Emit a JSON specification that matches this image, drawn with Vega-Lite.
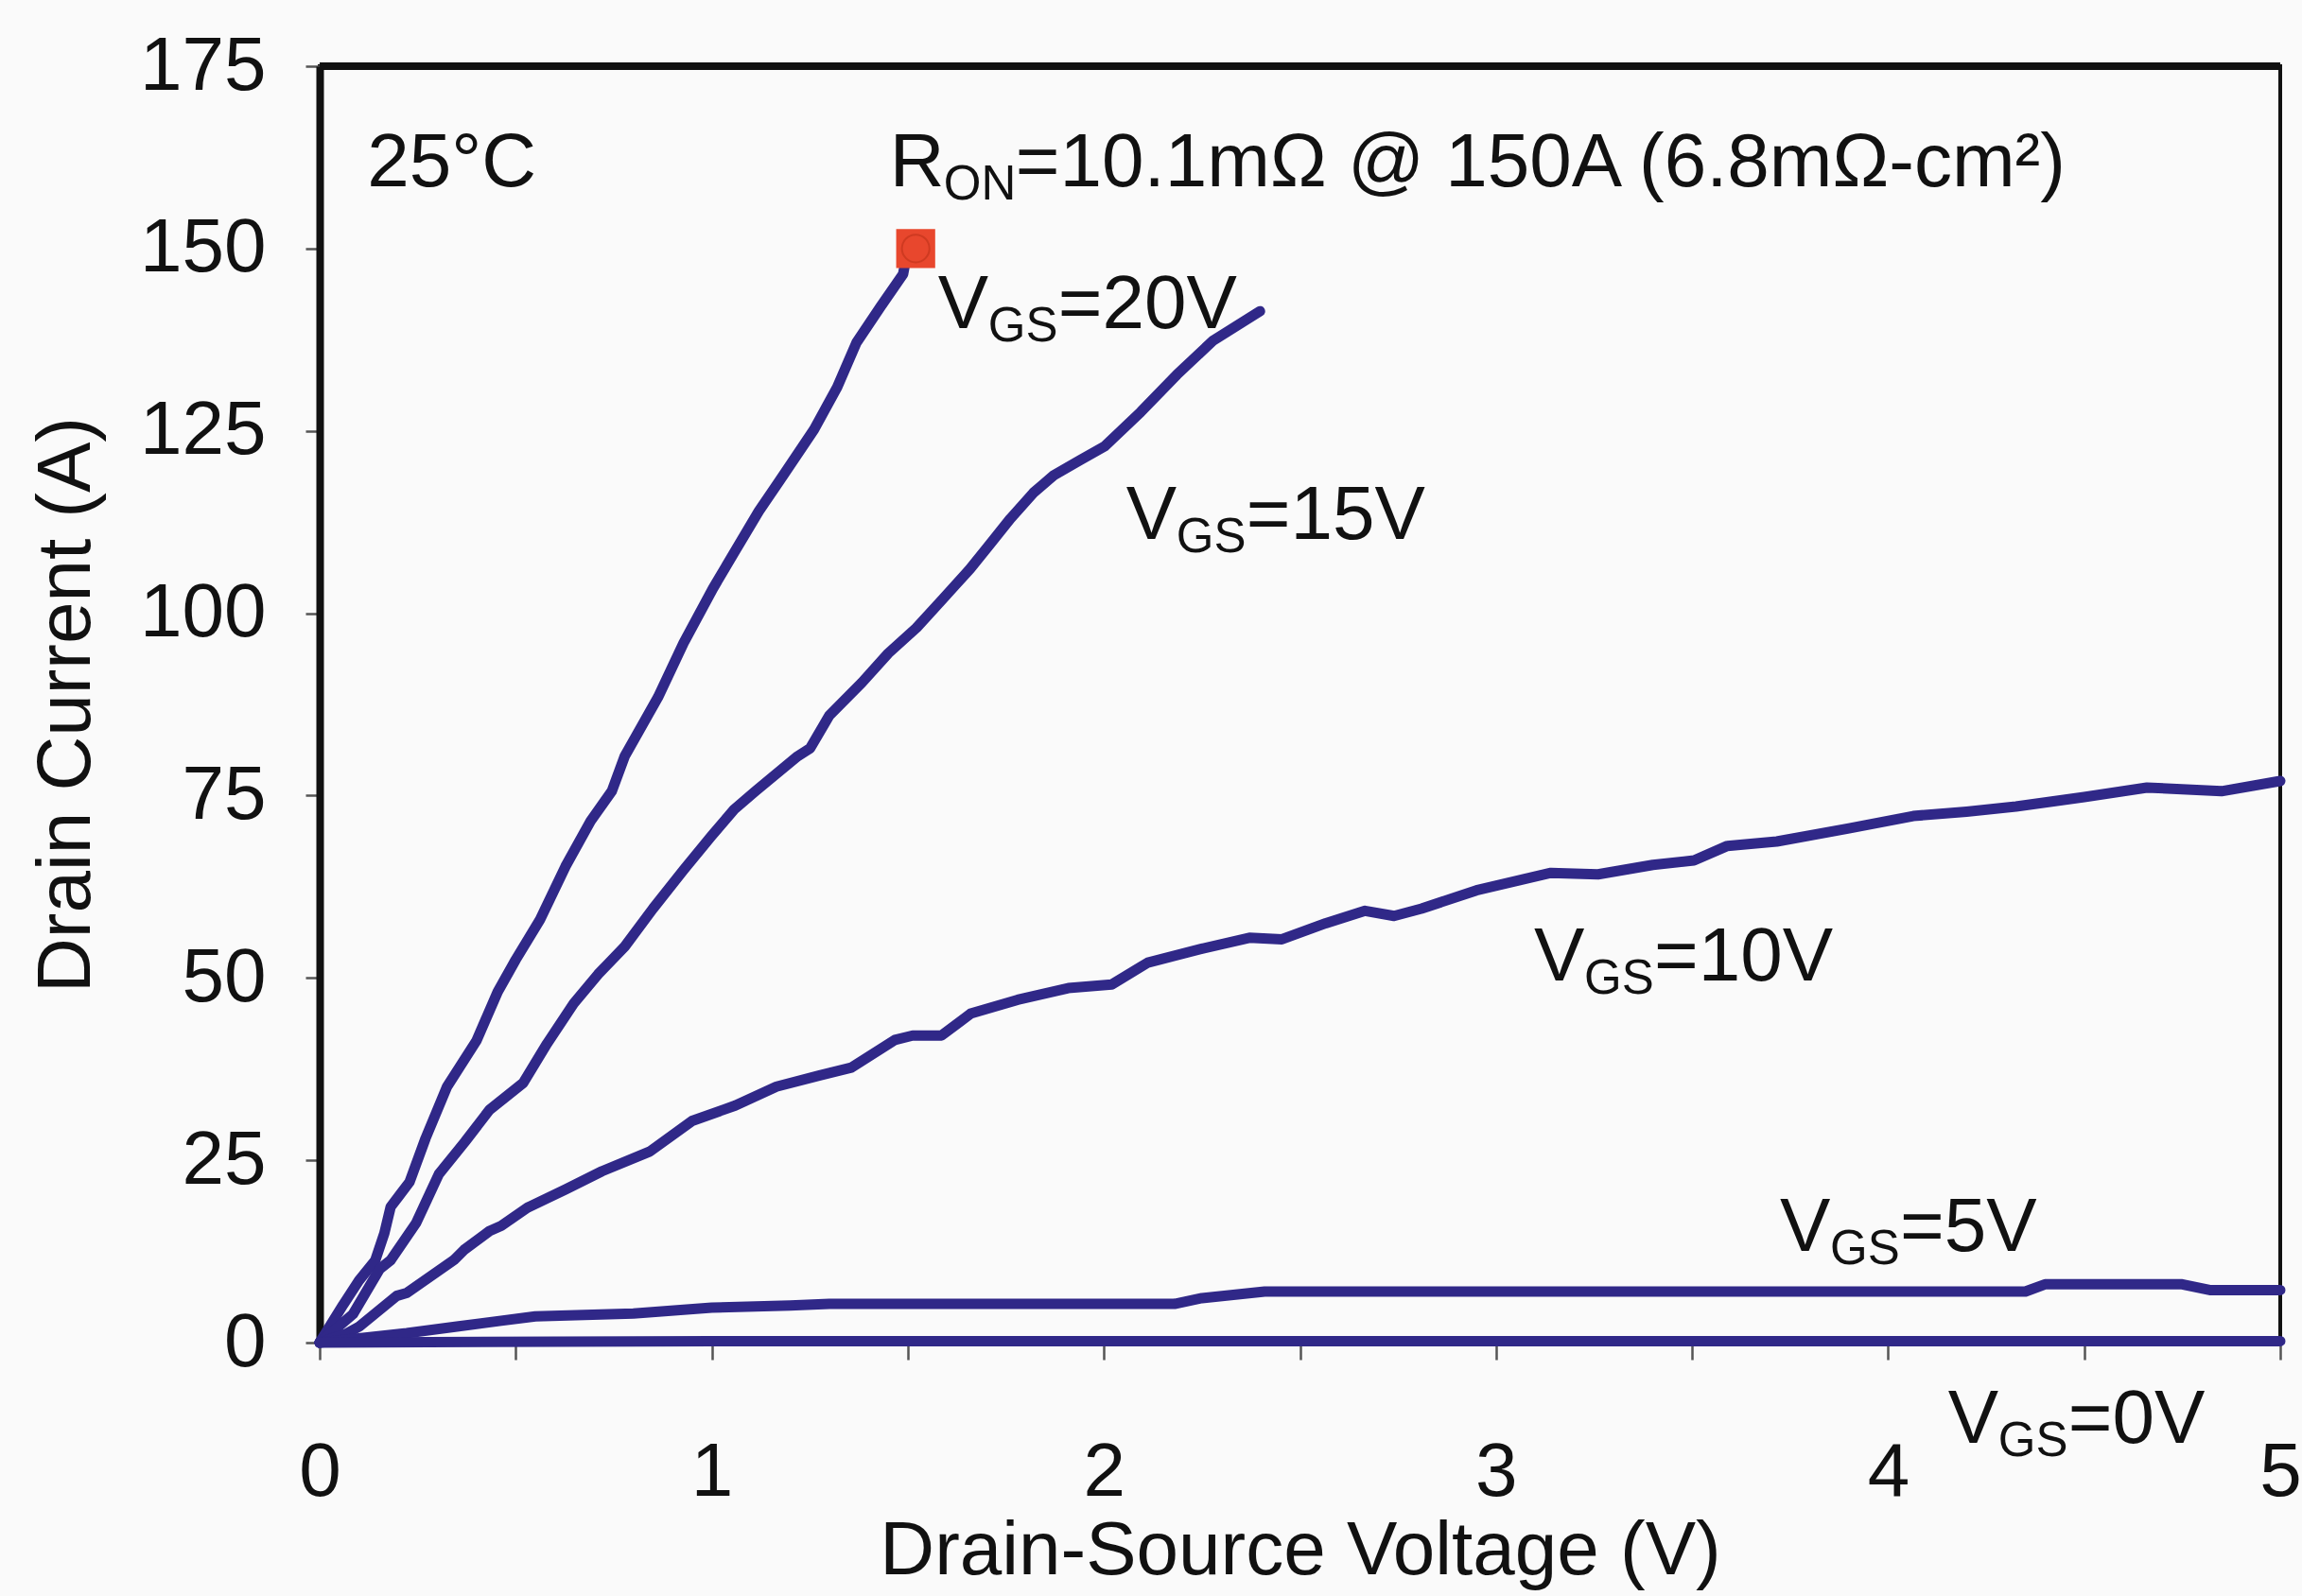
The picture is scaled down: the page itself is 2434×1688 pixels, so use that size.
{
  "$schema": "https://vega.github.io/schema/vega-lite/v6.json",
  "width": 2073,
  "height": 1350,
  "autosize": {"type": "none"},
  "padding": {"left": 338, "top": 70, "right": 23, "bottom": 268},
  "background": "#fafafa",
  "data": {"values": [{"anchor": 1}]},
  "config": {
    "font": "Liberation Sans",
    "view": {"stroke": "#111111", "strokeWidth": 4},
    "text": {"font": "Liberation Sans", "color": "#111111"}
  },
  "datasets": {
    "curves": [
      {"vgs": "20V", "v": 0, "i": 0},
      {"vgs": "20V", "v": 0.06, "i": 5.2},
      {"vgs": "20V", "v": 0.1, "i": 8.5},
      {"vgs": "20V", "v": 0.142, "i": 11.3},
      {"vgs": "20V", "v": 0.165, "i": 15},
      {"vgs": "20V", "v": 0.181, "i": 18.6},
      {"vgs": "20V", "v": 0.205, "i": 20.3},
      {"vgs": "20V", "v": 0.229, "i": 22},
      {"vgs": "20V", "v": 0.27, "i": 28},
      {"vgs": "20V", "v": 0.325, "i": 35.1},
      {"vgs": "20V", "v": 0.4, "i": 41.4},
      {"vgs": "20V", "v": 0.454, "i": 48.1},
      {"vgs": "20V", "v": 0.5, "i": 52.5},
      {"vgs": "20V", "v": 0.562, "i": 58},
      {"vgs": "20V", "v": 0.627, "i": 65.3},
      {"vgs": "20V", "v": 0.691, "i": 71.5},
      {"vgs": "20V", "v": 0.745, "i": 75.6},
      {"vgs": "20V", "v": 0.778, "i": 80.4},
      {"vgs": "20V", "v": 0.863, "i": 88.5},
      {"vgs": "20V", "v": 0.928, "i": 95.9},
      {"vgs": "20V", "v": 1.003, "i": 103.4},
      {"vgs": "20V", "v": 1.057, "i": 108.3},
      {"vgs": "20V", "v": 1.12, "i": 114},
      {"vgs": "20V", "v": 1.186, "i": 119.2},
      {"vgs": "20V", "v": 1.261, "i": 125.2},
      {"vgs": "20V", "v": 1.32, "i": 131},
      {"vgs": "20V", "v": 1.369, "i": 137.1},
      {"vgs": "20V", "v": 1.43, "i": 142},
      {"vgs": "20V", "v": 1.488, "i": 146.5},
      {"vgs": "20V", "v": 1.5, "i": 150},
      {"vgs": "15V", "v": 0, "i": 0},
      {"vgs": "15V", "v": 0.085, "i": 3.9},
      {"vgs": "15V", "v": 0.153, "i": 10.1},
      {"vgs": "15V", "v": 0.181, "i": 11.3},
      {"vgs": "15V", "v": 0.246, "i": 16.4},
      {"vgs": "15V", "v": 0.304, "i": 23.1},
      {"vgs": "15V", "v": 0.37, "i": 27.5},
      {"vgs": "15V", "v": 0.433, "i": 31.9},
      {"vgs": "15V", "v": 0.519, "i": 35.6},
      {"vgs": "15V", "v": 0.58, "i": 41},
      {"vgs": "15V", "v": 0.648, "i": 46.5},
      {"vgs": "15V", "v": 0.71, "i": 50.5},
      {"vgs": "15V", "v": 0.778, "i": 54.3},
      {"vgs": "15V", "v": 0.85, "i": 59.5},
      {"vgs": "15V", "v": 0.928, "i": 64.8},
      {"vgs": "15V", "v": 1.0, "i": 69.5},
      {"vgs": "15V", "v": 1.057, "i": 73.1},
      {"vgs": "15V", "v": 1.111, "i": 75.6},
      {"vgs": "15V", "v": 1.219, "i": 80.4},
      {"vgs": "15V", "v": 1.251, "i": 81.5},
      {"vgs": "15V", "v": 1.3, "i": 86},
      {"vgs": "15V", "v": 1.383, "i": 90.5},
      {"vgs": "15V", "v": 1.45, "i": 94.5},
      {"vgs": "15V", "v": 1.522, "i": 98},
      {"vgs": "15V", "v": 1.59, "i": 102},
      {"vgs": "15V", "v": 1.659, "i": 106.1},
      {"vgs": "15V", "v": 1.71, "i": 109.5},
      {"vgs": "15V", "v": 1.762, "i": 113},
      {"vgs": "15V", "v": 1.82, "i": 116.5},
      {"vgs": "15V", "v": 1.872, "i": 118.9},
      {"vgs": "15V", "v": 1.94, "i": 121},
      {"vgs": "15V", "v": 2.002, "i": 122.9},
      {"vgs": "15V", "v": 2.094, "i": 127.6},
      {"vgs": "15V", "v": 2.186, "i": 132.7},
      {"vgs": "15V", "v": 2.279, "i": 137.4},
      {"vgs": "15V", "v": 2.398, "i": 141.4},
      {"vgs": "10V", "v": 0, "i": 0},
      {"vgs": "10V", "v": 0.067, "i": 1.2},
      {"vgs": "10V", "v": 0.101, "i": 2.2},
      {"vgs": "10V", "v": 0.196, "i": 6.4},
      {"vgs": "10V", "v": 0.222, "i": 6.8},
      {"vgs": "10V", "v": 0.342, "i": 11.3},
      {"vgs": "10V", "v": 0.368, "i": 12.7},
      {"vgs": "10V", "v": 0.433, "i": 15.3},
      {"vgs": "10V", "v": 0.463, "i": 16},
      {"vgs": "10V", "v": 0.53, "i": 18.5},
      {"vgs": "10V", "v": 0.627, "i": 21},
      {"vgs": "10V", "v": 0.72, "i": 23.5},
      {"vgs": "10V", "v": 0.842, "i": 26.2},
      {"vgs": "10V", "v": 0.95, "i": 30.4},
      {"vgs": "10V", "v": 1.06, "i": 32.5},
      {"vgs": "10V", "v": 1.165, "i": 35.1},
      {"vgs": "10V", "v": 1.273, "i": 36.6},
      {"vgs": "10V", "v": 1.356, "i": 37.7},
      {"vgs": "10V", "v": 1.467, "i": 41.5},
      {"vgs": "10V", "v": 1.512, "i": 42.1},
      {"vgs": "10V", "v": 1.586, "i": 42.1},
      {"vgs": "10V", "v": 1.66, "i": 45.1},
      {"vgs": "10V", "v": 1.78, "i": 47},
      {"vgs": "10V", "v": 1.909, "i": 48.6},
      {"vgs": "10V", "v": 2.02, "i": 49.1},
      {"vgs": "10V", "v": 2.112, "i": 52.1},
      {"vgs": "10V", "v": 2.25, "i": 54},
      {"vgs": "10V", "v": 2.371, "i": 55.5},
      {"vgs": "10V", "v": 2.454, "i": 55.3},
      {"vgs": "10V", "v": 2.566, "i": 57.5},
      {"vgs": "10V", "v": 2.666, "i": 59.2},
      {"vgs": "10V", "v": 2.74, "i": 58.5},
      {"vgs": "10V", "v": 2.81, "i": 59.5},
      {"vgs": "10V", "v": 2.95, "i": 62},
      {"vgs": "10V", "v": 3.14, "i": 64.4},
      {"vgs": "10V", "v": 3.26, "i": 64.2},
      {"vgs": "10V", "v": 3.4, "i": 65.5},
      {"vgs": "10V", "v": 3.505, "i": 66.1},
      {"vgs": "10V", "v": 3.59, "i": 68.1},
      {"vgs": "10V", "v": 3.716, "i": 68.7},
      {"vgs": "10V", "v": 3.9, "i": 70.5},
      {"vgs": "10V", "v": 4.064, "i": 72.2},
      {"vgs": "10V", "v": 4.2, "i": 72.8},
      {"vgs": "10V", "v": 4.326, "i": 73.5},
      {"vgs": "10V", "v": 4.5, "i": 74.8},
      {"vgs": "10V", "v": 4.66, "i": 76.1},
      {"vgs": "10V", "v": 4.85, "i": 75.6},
      {"vgs": "10V", "v": 5.0, "i": 77},
      {"vgs": "5V", "v": 0, "i": 0},
      {"vgs": "5V", "v": 0.1, "i": 0.6},
      {"vgs": "5V", "v": 0.222, "i": 1.3},
      {"vgs": "5V", "v": 0.35, "i": 2.2},
      {"vgs": "5V", "v": 0.463, "i": 3.0},
      {"vgs": "5V", "v": 0.55, "i": 3.6},
      {"vgs": "5V", "v": 0.8, "i": 4.0},
      {"vgs": "5V", "v": 1.0, "i": 4.8},
      {"vgs": "5V", "v": 1.2, "i": 5.1},
      {"vgs": "5V", "v": 1.3, "i": 5.3},
      {"vgs": "5V", "v": 2.18, "i": 5.3},
      {"vgs": "5V", "v": 2.25, "i": 6.1},
      {"vgs": "5V", "v": 2.41, "i": 7.0},
      {"vgs": "5V", "v": 4.35, "i": 7.0},
      {"vgs": "5V", "v": 4.4, "i": 8.0},
      {"vgs": "5V", "v": 4.75, "i": 8.0},
      {"vgs": "5V", "v": 4.82, "i": 7.2},
      {"vgs": "5V", "v": 5.0, "i": 7.2},
      {"vgs": "0V", "v": 0, "i": 0},
      {"vgs": "0V", "v": 1, "i": 0.2},
      {"vgs": "0V", "v": 2, "i": 0.2},
      {"vgs": "0V", "v": 3, "i": 0.2},
      {"vgs": "0V", "v": 4, "i": 0.2},
      {"vgs": "0V", "v": 5, "i": 0.2}
    ]
  },
  "layer": [
    {
      "data": {"name": "curves"},
      "mark": {"type": "line", "color": "#302888", "strokeWidth": 11, "strokeJoin": "round", "strokeCap": "round"},
      "encoding": {
        "x": {
          "field": "v", "type": "quantitative",
          "scale": {"domain": [0, 5], "nice": false, "zero": false},
          "axis": {
            "title": "Drain-Source Voltage (V)",
            "values": [0, 0.5, 1, 1.5, 2, 2.5, 3, 3.5, 4, 4.5, 5],
            "format": "~g",
            "labelExpr": "datum.value % 1 === 0 ? datum.label : ''",
            "labelFlush": false, "labelOverlap": false, "labelBound": false,
            "labelFontSize": 80, "labelColor": "#111111", "labelPadding": 80,
            "tickSize": 18, "tickWidth": 2.5, "tickColor": "#555555",
            "domainColor": "#111111", "domainWidth": 4, "grid": false,
            "titleFontSize": 80, "titleFontWeight": "normal", "titleColor": "#111111",
            "titleY": 244, "titleBaseline": "alphabetic"
          }
        },
        "y": {
          "field": "i", "type": "quantitative",
          "scale": {"domain": [0, 175], "nice": false},
          "axis": {
            "title": "Drain Current (A)",
            "values": [0, 25, 50, 75, 100, 125, 150, 175],
            "labelFlush": false, "labelOverlap": false, "labelBound": false,
            "labelFontSize": 80, "labelColor": "#111111", "labelPadding": 42,
            "tickSize": 15, "tickWidth": 2.5, "tickColor": "#555555",
            "domainColor": "#111111", "domainWidth": 8, "grid": false,
            "titleFontSize": 80, "titleFontWeight": "normal", "titleColor": "#111111",
            "titleX": -268, "titleY": 675, "titleBaseline": "middle", "titleAlign": "center"
          }
        },
        "detail": {"field": "vgs", "type": "nominal"}
      }
    },
    {
      "mark": {"type": "rule", "color": "#111111", "strokeWidth": 8},
      "encoding": {"y": {"datum": 175, "type": "quantitative"}}
    },
    {
      "mark": {"type": "point", "shape": "square", "size": 1700, "filled": true, "color": "#e8472d", "opacity": 1},
      "encoding": {"x": {"datum": 1.52, "type": "quantitative"}, "y": {"datum": 150, "type": "quantitative"}}
    },
    {
      "mark": {"type": "point", "shape": "circle", "size": 850, "filled": false, "stroke": "#c9381f", "strokeWidth": 2, "opacity": 0.8},
      "encoding": {"x": {"datum": 1.52, "type": "quantitative"}, "y": {"datum": 150, "type": "quantitative"}}
    },
    {
      "mark": {"type": "text", "text": "25°C", "fontSize": 80, "align": "left", "baseline": "alphabetic"},
      "encoding": {"x": {"datum": 0.121, "type": "quantitative"}, "y": {"datum": 158.5, "type": "quantitative"}}
    },
    {
      "mark": {"type": "text", "text": "R", "fontSize": 80, "align": "left", "baseline": "alphabetic"},
      "encoding": {"x": {"datum": 1.454, "type": "quantitative"}, "y": {"datum": 158.5, "type": "quantitative"}}
    },
    {
      "mark": {"type": "text", "text": "ON", "fontSize": 51, "align": "left", "baseline": "alphabetic", "dx": 57, "dy": 14},
      "encoding": {"x": {"datum": 1.454, "type": "quantitative"}, "y": {"datum": 158.5, "type": "quantitative"}}
    },
    {
      "mark": {"type": "text", "text": "=10.1mΩ @ 150A (6.8mΩ-cm²)", "fontSize": 80, "align": "left", "baseline": "alphabetic", "dx": 133},
      "encoding": {"x": {"datum": 1.454, "type": "quantitative"}, "y": {"datum": 158.5, "type": "quantitative"}}
    },
    {
      "mark": {"type": "text", "text": "V", "fontSize": 80, "align": "left", "baseline": "alphabetic"},
      "encoding": {"x": {"datum": 1.577, "type": "quantitative"}, "y": {"datum": 139.1, "type": "quantitative"}}
    },
    {
      "mark": {"type": "text", "text": "GS", "fontSize": 51, "align": "left", "baseline": "alphabetic", "dx": 53, "dy": 14},
      "encoding": {"x": {"datum": 1.577, "type": "quantitative"}, "y": {"datum": 139.1, "type": "quantitative"}}
    },
    {
      "mark": {"type": "text", "text": "=20V", "fontSize": 80, "align": "left", "baseline": "alphabetic", "dx": 127},
      "encoding": {"x": {"datum": 1.577, "type": "quantitative"}, "y": {"datum": 139.1, "type": "quantitative"}}
    },
    {
      "mark": {"type": "text", "text": "V", "fontSize": 80, "align": "left", "baseline": "alphabetic"},
      "encoding": {"x": {"datum": 2.057, "type": "quantitative"}, "y": {"datum": 110.2, "type": "quantitative"}}
    },
    {
      "mark": {"type": "text", "text": "GS", "fontSize": 51, "align": "left", "baseline": "alphabetic", "dx": 53, "dy": 14},
      "encoding": {"x": {"datum": 2.057, "type": "quantitative"}, "y": {"datum": 110.2, "type": "quantitative"}}
    },
    {
      "mark": {"type": "text", "text": "=15V", "fontSize": 80, "align": "left", "baseline": "alphabetic", "dx": 127},
      "encoding": {"x": {"datum": 2.057, "type": "quantitative"}, "y": {"datum": 110.2, "type": "quantitative"}}
    },
    {
      "mark": {"type": "text", "text": "V", "fontSize": 80, "align": "left", "baseline": "alphabetic"},
      "encoding": {"x": {"datum": 3.097, "type": "quantitative"}, "y": {"datum": 49.65, "type": "quantitative"}}
    },
    {
      "mark": {"type": "text", "text": "GS", "fontSize": 51, "align": "left", "baseline": "alphabetic", "dx": 53, "dy": 14},
      "encoding": {"x": {"datum": 3.097, "type": "quantitative"}, "y": {"datum": 49.65, "type": "quantitative"}}
    },
    {
      "mark": {"type": "text", "text": "=10V", "fontSize": 80, "align": "left", "baseline": "alphabetic", "dx": 127},
      "encoding": {"x": {"datum": 3.097, "type": "quantitative"}, "y": {"datum": 49.65, "type": "quantitative"}}
    },
    {
      "mark": {"type": "text", "text": "V", "fontSize": 80, "align": "left", "baseline": "alphabetic"},
      "encoding": {"x": {"datum": 3.724, "type": "quantitative"}, "y": {"datum": 12.57, "type": "quantitative"}}
    },
    {
      "mark": {"type": "text", "text": "GS", "fontSize": 51, "align": "left", "baseline": "alphabetic", "dx": 53, "dy": 14},
      "encoding": {"x": {"datum": 3.724, "type": "quantitative"}, "y": {"datum": 12.57, "type": "quantitative"}}
    },
    {
      "mark": {"type": "text", "text": "=5V", "fontSize": 80, "align": "left", "baseline": "alphabetic", "dx": 127},
      "encoding": {"x": {"datum": 3.724, "type": "quantitative"}, "y": {"datum": 12.57, "type": "quantitative"}}
    },
    {
      "mark": {"type": "text", "text": "V", "fontSize": 80, "align": "left", "baseline": "alphabetic"},
      "encoding": {"x": {"datum": 4.153, "type": "quantitative"}, "y": {"datum": -13.7, "type": "quantitative"}}
    },
    {
      "mark": {"type": "text", "text": "GS", "fontSize": 51, "align": "left", "baseline": "alphabetic", "dx": 53, "dy": 14},
      "encoding": {"x": {"datum": 4.153, "type": "quantitative"}, "y": {"datum": -13.7, "type": "quantitative"}}
    },
    {
      "mark": {"type": "text", "text": "=0V", "fontSize": 80, "align": "left", "baseline": "alphabetic", "dx": 127},
      "encoding": {"x": {"datum": 4.153, "type": "quantitative"}, "y": {"datum": -13.7, "type": "quantitative"}}
    }
  ]
}
